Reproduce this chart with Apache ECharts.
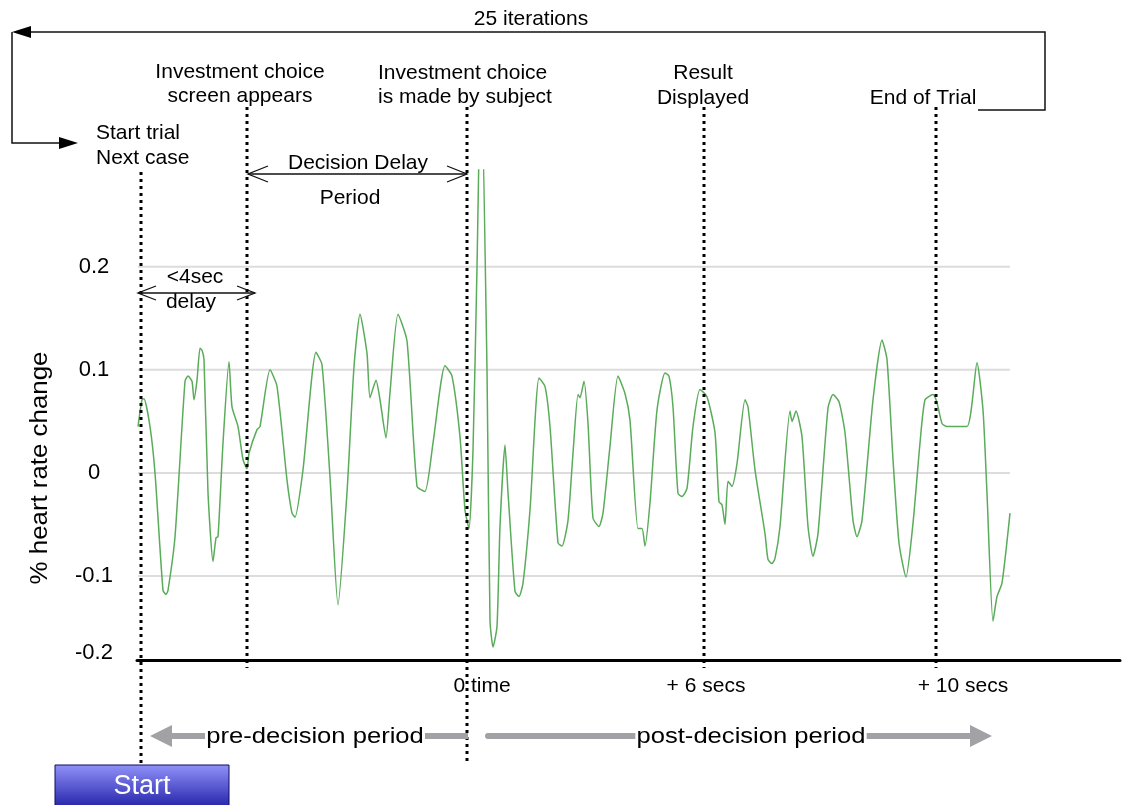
<!DOCTYPE html>
<html><head><meta charset="utf-8">
<script src="https://cdn.jsdelivr.net/npm/echarts@6/dist/echarts.min.js"></script>
<style>html,body{margin:0;padding:0;background:#fff}#c{width:1131px;height:805px}</style>
</head><body><div id="c"></div>
<script>
// time index (0 = decision moment) and % heart rate change
const sampleX = [
  -329,-325,-323,-317,-312,-304,-301,-299,-292,-282,
  -279,-275,-273,-270,-267,-265,-263,-259,-254,-251,
  -249,-244,-238,-235,-229,-224,-220,-218,-210,-207,
  -197,-190,-180,-175,-172,-164,-151,-145,-137,-129,
  -120,-113,-107,-100,-97,-91,-87,-81,-77,-69,
  -60,-50,-42,-34,-22,-15,-7,-2,2,6,
  10,14,20,23,26,30,33,38,41,48,
  52,56,63,72,78,83,91,95,101,106,
  111,113,117,121,126,132,136,143,151,158,
  163,171,175,178,183,190,198,202,206,211,
  215,220,226,233,240,248,252,255,258,261,
  265,270,278,281,288,298,301,305,308,313,
  323,325,329,335,341,346,351,361,366,372,
  378,386,390,395,406,415,420,426,432,439,
  446,453,458,466,470,475,480,500,510,516,
  520,526,530,535,543
];
const heartRate = [
  0.045,0.071,0.072,0.045,0.000,-0.114,-0.118,-0.114,-0.062,0.089,
  0.094,0.089,0.071,0.090,0.121,0.119,0.110,-0.019,-0.086,-0.063,
  -0.062,0.029,0.108,0.064,0.045,0.013,0.004,0.019,0.042,0.045,
  0.100,0.084,-0.007,-0.039,-0.043,0.003,0.117,0.105,-0.004,-0.128,
  -0.019,0.103,0.154,0.116,0.073,0.090,0.071,0.034,0.078,0.154,
  0.128,-0.013,-0.018,0.029,0.104,0.094,0.035,-0.036,-0.054,0.022,
  0.200,0.400,0.100,-0.143,-0.169,-0.149,-0.052,0.027,-0.019,-0.115,
  -0.120,-0.107,-0.036,0.092,0.084,0.045,-0.068,-0.071,-0.046,0.019,
  0.076,0.073,0.089,0.048,-0.044,-0.052,-0.039,0.026,0.094,0.077,
  0.051,-0.054,-0.054,-0.071,-0.029,0.061,0.097,0.094,0.064,-0.020,
  -0.023,-0.015,0.045,0.081,0.074,0.039,-0.028,-0.031,-0.050,-0.008,
  -0.013,0.009,0.071,0.064,0.003,-0.059,-0.084,-0.088,-0.083,-0.052,
  0.060,0.050,0.060,0.035,-0.052,-0.081,-0.059,0.063,0.076,0.069,
  0.039,-0.046,-0.062,-0.046,0.071,0.129,0.110,0.013,-0.068,-0.101,
  -0.049,0.029,0.071,0.076,0.068,0.048,0.045,0.045,0.107,0.061,
  -0.020,-0.144,-0.120,-0.107,-0.039
];
const yTickValues = [-0.1, 0, 0.1, 0.2];
const yTickLabels = ['-0.1', '0', '0.1', '0.2'];
const yMinLabel = '-0.2';
const gridValues = [0.2, 0.1, 0, -0.1];
const eventX = [-326, -220, 0, 237, 469];
const eventNames = ['Start trial\nNext case', 'Investment choice\nscreen appears', 'Investment choice\nis made by subject', 'Result\nDisplayed', 'End of Trial'];
const xLabelValues = [15, 239, 496];
const xLabelTexts = ['0 time', '+ 6 secs', '+ 10 secs'];
const axisName = '% heart rate change';
const loopLabel = '25 iterations';
const periodLabels = ['pre-decision period', 'post-decision period'];

// layout / style (pixels)
const FONT = '"Liberation Sans", Arial, sans-serif';
const yMin = -0.1816, yMax = 0.294;
const eventLineSpan = [[172, 765], [107, 668], [107, 762], [107, 668], [107, 668]];

const chart = echarts.init(document.getElementById('c'));
const lineData = sampleX.map((x, i) => [x, heartRate[i]]);

function txt(text, x, y, opt) {
  opt = opt || {};
  return {
    type: 'text', x: x, y: y, scaleX: opt.scaleX || 1, z: 10,
    style: Object.assign({
      text: text, fill: '#000', fontSize: opt.size || 21, fontFamily: FONT,
      align: opt.align || 'center', verticalAlign: 'middle', lineHeight: opt.lh || 24
    }, opt.style || {})
  };
}
function poly(points, w) {
  return { type: 'polyline', z: 10, shape: { points: points }, style: { stroke: '#111', lineWidth: w || 1.5, fill: null } };
}
function tri(points, color) {
  return { type: 'polygon', z: 10, shape: { points: points }, style: { fill: color || '#000', stroke: null } };
}

const graphics = [
  txt(loopLabel, 531, 19),
  poly([[978, 110], [1045, 110], [1045, 32], [28, 32]]),
  tri([[12, 32], [31, 26], [31, 38]]),
  poly([[12, 32], [12, 143], [62, 143]]),
  tri([[78, 143], [59, 137], [59, 149]]),
  txt(eventNames[0], 96, 146, { align: 'left', lh: 25 }),
  txt(eventNames[1], 240, 84),
  txt(eventNames[2], 378, 85, { align: 'left' }),
  txt(eventNames[3], 703, 85.5, { lh: 25 }),
  txt(eventNames[4], 923, 98),
  txt('Decision Delay', 358, 163),
  txt('Period', 350, 198),
  poly([[248, 174], [467, 174]], 1.3),
  poly([[268, 166], [248, 174], [268, 182]], 1.3),
  poly([[447, 166], [467, 174], [447, 182]], 1.3),
  txt('<4sec', 195, 277),
  txt('delay', 191, 302),
  poly([[138, 293], [255, 293]], 1.3),
  poly([[156, 286], [138, 293], [156, 300]], 1.3),
  poly([[237, 286], [255, 293], [237, 300]], 1.3),
  // grey period arrows
  { type: 'rect', z: 9, shape: { x: 168, y: 733, width: 300, height: 6 }, style: { fill: '#a2a2a6' } },
  tri([[150, 736], [172, 725], [172, 747]], '#a2a2a6'),
  { type: 'rect', z: 9, shape: { x: 485, y: 733, width: 488, height: 6, r: 3 }, style: { fill: '#a2a2a6' } },
  tri([[992, 736], [970, 725], [970, 747]], '#a2a2a6'),
  txt(periodLabels[0], 315, 737, { size: 21.5, scaleX: 1.19, style: { backgroundColor: '#fff', padding: [0, 1] } }),
  txt(periodLabels[1], 751, 737, { size: 21.5, scaleX: 1.19, style: { backgroundColor: '#fff', padding: [0, 1] } }),
  // Start button
  { type: 'rect', z: 10, shape: { x: 55, y: 765, width: 174, height: 45 },
    style: { fill: new echarts.graphic.LinearGradient(0, 0, 0, 1, [{ offset: 0, color: '#9292fa' }, { offset: 1, color: '#1c1ca4' }]), stroke: '#0c0c60', lineWidth: 1 } },
  txt('Start', 142, 787, { size: 27, style: { fill: '#fff' } }),
  // axis name
  { type: 'text', x: 41, y: 468, rotation: Math.PI / 2, scaleX: 1.1, z: 10,
    style: { text: axisName, fill: '#000', fontSize: 23.5, fontFamily: FONT, align: 'center', verticalAlign: 'middle' } }
];

chart.setOption({
  animation: false,
  backgroundColor: '#fff',
  grid: { left: 137, right: 11, top: 170, bottom: 145 },
  xAxis: {
    type: 'value', min: -330, max: 653,
    axisLine: { show: true, onZero: false, lineStyle: { color: '#000', width: 3 } },
    axisTick: { show: false },
    splitLine: { show: false },
    axisLabel: {
      customValues: xLabelValues,
      formatter: v => { const i = xLabelValues.indexOf(v); return i >= 0 ? xLabelTexts[i] : ''; },
      fontSize: 21, color: '#000', fontFamily: FONT, margin: 16
    }
  },
  yAxis: {
    type: 'value', min: yMin, max: yMax,
    axisLine: { show: false }, axisTick: { show: false }, splitLine: { show: false },
    axisLabel: {
      formatter: v => {
        if (Math.abs(v - yMin) < 1e-6) return '{lo|' + yMinLabel + '}';
        const i = yTickValues.findIndex(t => Math.abs(t - v) < 1e-6);
        return i >= 0 ? yTickLabels[i] : '';
      },
      rich: { lo: { fontSize: 22, fontFamily: FONT, color: '#000', padding: [0, 0, 14, 0] } },
      fontSize: 22, color: '#000', fontFamily: FONT, align: 'center', margin: 43
    }
  },
  series: [
    {
      type: 'custom', name: 'gridlines', z: 1, silent: true, clip: false,
      data: gridValues.map(v => [0, v]), encode: { x: 0, y: 1 },
      renderItem: (params, api) => {
        const v = api.value(1);
        const a = api.coord([sampleX[0], v]);
        const b = api.coord([sampleX[sampleX.length - 1], v]);
        return { type: 'line', shape: { x1: a[0], y1: a[1], x2: b[0], y2: b[1] }, style: { stroke: '#dcdcdc', lineWidth: 2 } };
      }
    },
    {
      type: 'line', name: 'heart rate', z: 2, silent: true, clip: true,
      data: lineData, showSymbol: false, symbol: 'none', smooth: 0.2,
      lineStyle: { color: '#5aab5a', width: 1.5 }
    },
    {
      type: 'custom', name: 'events', z: 5, silent: true, clip: false,
      data: eventX.map(x => [x, 0]), encode: { x: 0, y: 1 },
      renderItem: (params, api) => {
        const px = Math.round(api.coord([api.value(0), 0])[0]);
        const span = eventLineSpan[params.dataIndex];
        return { type: 'line', shape: { x1: px, y1: span[0], x2: px, y2: span[1] }, style: { stroke: '#000', lineWidth: 3, lineDash: [3, 4] } };
      }
    }
  ],
  graphic: graphics
});
</script>
</body></html>
